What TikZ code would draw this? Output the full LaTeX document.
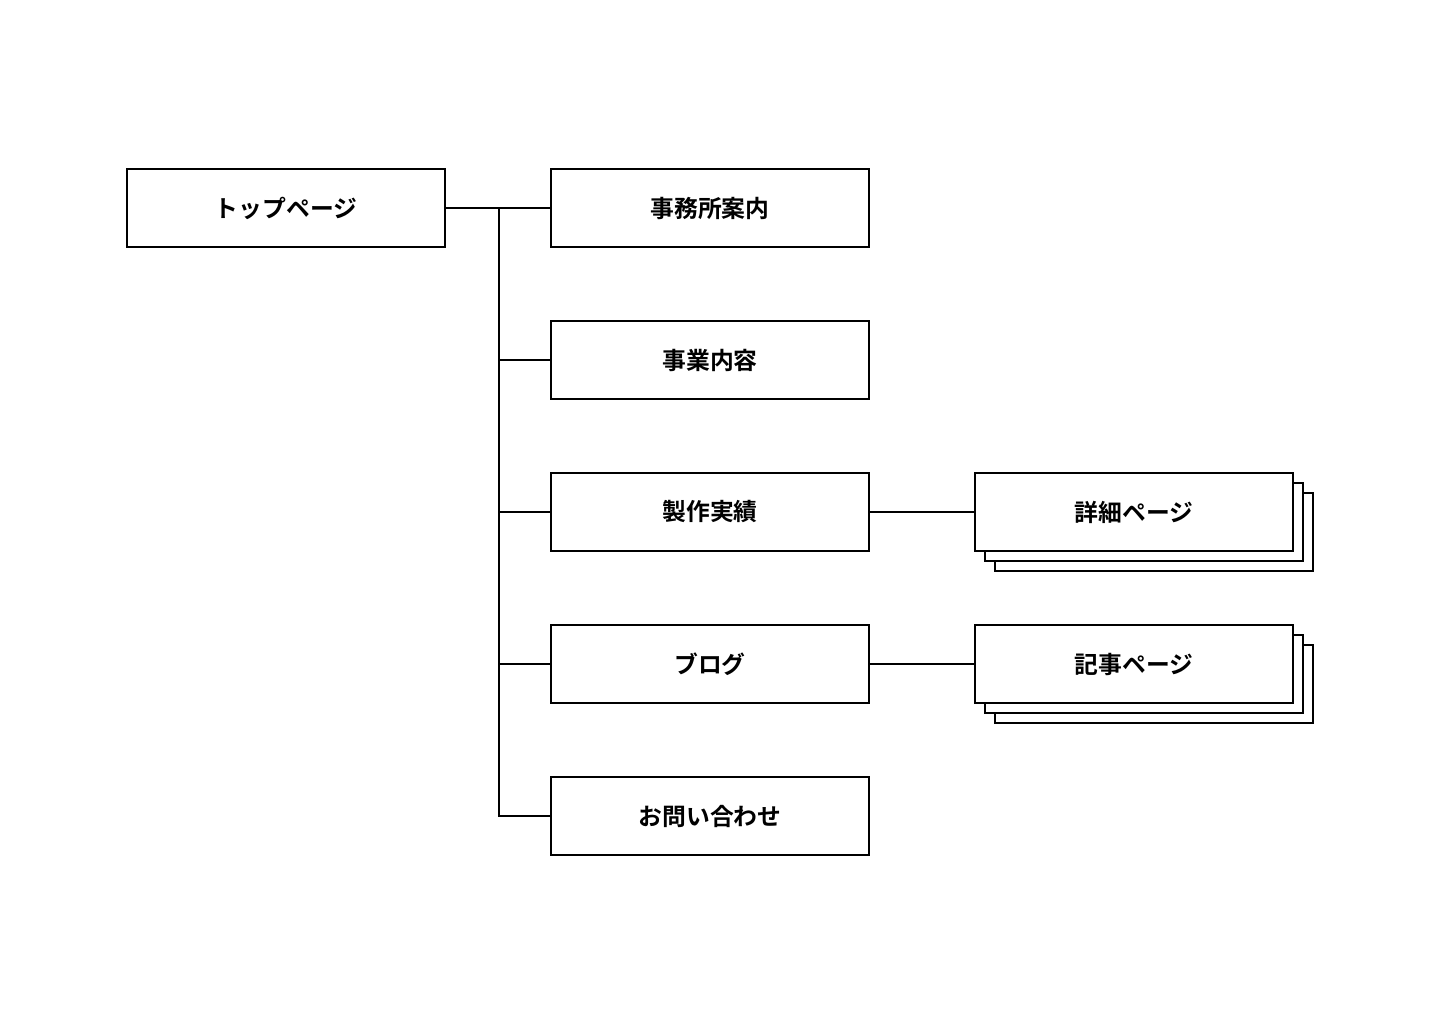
\documentclass[tikz,border=0pt]{standalone}
\usepackage{fontspec}
\setmainfont{Noto Sans CJK JP}[BoldFont={Noto Sans CJK JP Bold}]
\newfontfamily\jpb{Noto Sans CJK JP Bold}
\begin{document}
\begin{tikzpicture}[x=1pt,y=-1pt,
  page/.style={draw=black,line width=2pt,fill=white,minimum width=318pt,minimum height=78pt,inner sep=0pt,font=\jpb\fontsize{23.8}{28}\selectfont},
  link/.style={draw=black,line width=2pt,line cap=rect}]
\useasboundingbox (0,0) rectangle (1440,1024);
\fill[white] (0,0) rectangle (1440,1024);
\node[page] (top) at (286,208) {トップページ};
\node[page] (office) at (710,208) {事務所案内};
\node[page] (business) at (710,360) {事業内容};
\node[page] (works) at (710,512) {製作実績};
\node[page] (blog) at (710,664) {ブログ};
\node[page] (contact) at (710,816) {お問い合わせ};
% stacked detail pages
\node[page] (detail3) at (1154,532) {};
\node[page] (detail2) at (1144,522) {};
\node[page] (detail) at (1134,512) {詳細ページ};
\node[page] (article3) at (1154,684) {};
\node[page] (article2) at (1144,674) {};
\node[page] (article) at (1134,664) {記事ページ};
\coordinate (trunktop) at (499,208);
\coordinate (trunkbot) at (499,816);
\draw[link] (top.east) -- (office.west);
\draw[link] (trunktop) -- (trunkbot);
\draw[link] (business.west) -- (business.west -| trunktop);
\draw[link] (works.west) -- (works.west -| trunktop);
\draw[link] (blog.west) -- (blog.west -| trunktop);
\draw[link] (contact.west) -- (trunkbot);
\draw[link] (works.east) -- (detail.west);
\draw[link] (blog.east) -- (article.west);
\end{tikzpicture}
\end{document}
